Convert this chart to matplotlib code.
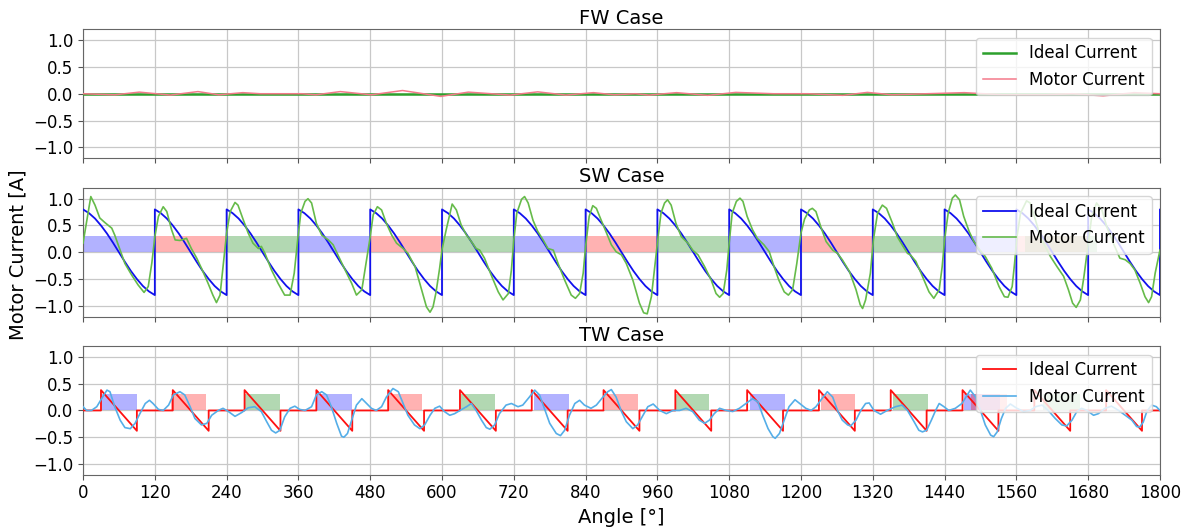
import matplotlib
matplotlib.use("Agg")
import matplotlib.pyplot as plt
import numpy as np

# ---- FW case: ideal current is flat zero, motor current has small ripple ----
FW_IDEAL_ANGLE = [0, 1800]
FW_IDEAL = [0.0, 0.0]
FW_ANGLE = [0, 53, 94, 146, 192, 227, 267, 296, 366, 389, 430, 482, 534, 598,
            644, 714, 760, 807, 853, 888, 923, 946, 992, 1044, 1091, 1154, 1212,
            1270, 1311, 1352, 1410, 1473, 1537, 1607, 1653, 1705, 1757, 1800]
FW_MOTOR = [0.0, -0.02, 0.03, -0.025, 0.04, -0.02, 0.02, 0.0, 0.0, -0.02, 0.04,
            -0.02, 0.06, -0.05, 0.03, -0.025, 0.035, -0.025, 0.02, -0.02, 0.0,
            -0.025, 0.02, -0.03, 0.025, 0.0, 0.0, -0.03, 0.025, -0.02, 0.0, 0.02,
            -0.02, -0.02, 0.0, -0.04, 0.02, 0.0]

# ---- SW case ----
SW_PERIOD_STARTS = [0, 120, 240, 360, 480, 600, 720, 840, 960, 1080, 1200, 1320,
                    1440, 1560, 1680, 1800]
SW_PROFILE_OFFSET = [0, 10, 20, 30, 40, 50, 60, 70, 80, 90, 100, 110, 120]
SW_PROFILE_VALUE = [0.80, 0.73, 0.63, 0.50, 0.35, 0.18, 0.0, -0.18, -0.35,
                    -0.50, -0.63, -0.73, -0.80]
SW_ANGLE = [0, 13, 20, 28, 37, 48, 53, 62, 70, 81, 92, 102, 109, 115, 120, 126,
            134, 140, 148, 154, 162, 173, 181, 190, 198, 209, 217, 223, 229, 234,
            240, 246, 254, 259, 268, 276, 284, 293, 298, 304, 315, 326, 337, 346,
            353, 359, 364, 371, 376, 382, 390, 399, 410, 418, 426, 438, 449, 457,
            466, 472, 480, 485, 492, 499, 507, 516, 524, 535, 543, 555, 566, 574,
            580, 585, 590, 596, 600, 607, 617, 624, 632, 641, 649, 657, 663, 671,
            682, 694, 702, 711, 716, 720, 725, 733, 738, 744, 752, 760, 769, 777,
            786, 794, 805, 816, 823, 830, 836, 840, 846, 852, 858, 866, 875, 883,
            891, 900, 908, 919, 930, 937, 943, 950, 955, 960, 966, 972, 977, 983,
            991, 1000, 1011, 1019, 1028, 1039, 1050, 1058, 1064, 1070, 1076, 1080,
            1085, 1092, 1098, 1103, 1110, 1119, 1127, 1138, 1147, 1155, 1163, 1172,
            1179, 1186, 1193, 1200, 1206, 1214, 1219, 1225, 1233, 1242, 1253, 1261,
            1269, 1281, 1292, 1299, 1303, 1308, 1316, 1321, 1328, 1336, 1343, 1353,
            1361, 1369, 1378, 1383, 1392, 1403, 1414, 1422, 1431, 1436, 1440, 1446,
            1453, 1458, 1465, 1472, 1481, 1489, 1497, 1508, 1519, 1531, 1540, 1546,
            1553, 1557, 1561, 1567, 1577, 1583, 1592, 1600, 1608, 1617, 1628, 1639,
            1647, 1654, 1660, 1667, 1673, 1681, 1686, 1694, 1703, 1711, 1722, 1733,
            1742, 1750, 1758, 1767, 1775, 1781, 1786, 1792, 1800]
SW_MOTOR = [0.17, 1.04, 0.88, 0.64, 0.55, 0.45, 0.32, 0.04, -0.21, -0.42, -0.61,
            -0.75, -0.64, -0.20, 0.29, 0.67, 0.85, 0.76, 0.42, 0.23, 0.22, 0.26,
            0.07, -0.11, -0.30, -0.58, -0.80, -0.94, -0.80, -0.27, 0.36, 0.76, 0.93,
            0.88, 0.60, 0.36, 0.17, 0.07, 0.11, -0.02, -0.33, -0.58, -0.80, -0.80,
            -0.39, 0.26, 0.73, 0.95, 1.00, 0.92, 0.54, 0.32, 0.23, 0.14, -0.05,
            -0.33, -0.58, -0.80, -0.70, -0.27, 0.29, 0.70, 0.85, 0.79, 0.54, 0.32,
            0.17, 0.07, -0.02, -0.27, -0.70, -1.02, -1.12, -1.02, -0.75, -0.30,
            0.05, 0.42, 0.90, 0.79, 0.51, 0.32, 0.20, 0.07, 0.04, -0.11, -0.42,
            -0.74, -0.89, -0.77, -0.33, 0.23, 0.73, 0.99, 1.04, 0.92, 0.60, 0.39,
            0.23, 0.07, 0.04, -0.21, -0.52, -0.80, -0.86, -0.77, -0.39, 0.11, 0.67,
            0.87, 0.82, 0.60, 0.36, 0.14, 0.01, -0.05, -0.21, -0.52, -0.95, -1.13,
            -1.15, -0.83, -0.33, 0.17, 0.73, 0.92, 0.98, 0.88, 0.54, 0.29, 0.17,
            0.04, -0.05, -0.27, -0.52, -0.77, -0.84, -0.77, -0.33, 0.17, 0.73, 0.95,
            1.01, 0.95, 0.67, 0.42, 0.26, 0.14, 0.01, -0.27, -0.52, -0.74, -0.80,
            -0.70, -0.21, 0.36, 0.62, 0.79, 0.82, 0.76, 0.48, 0.20, 0.04, -0.02,
            -0.14, -0.36, -0.70, -0.98, -1.05, -0.89, -0.39, 0.23, 0.73, 0.88, 0.82,
            0.54, 0.29, 0.14, -0.02, -0.05, -0.17, -0.45, -0.74, -0.86, -0.70,
            -0.27, 0.23, 0.73, 1.01, 1.07, 0.98, 0.67, 0.39, 0.20, 0.07, -0.08,
            -0.30, -0.64, -0.83, -0.84, -0.64, -0.21, 0.29, 0.73, 0.96, 0.92, 0.60,
            0.29, 0.11, -0.08, -0.27, -0.45, -0.70, -0.95, -1.03, -0.89, -0.45,
            0.23, 0.67, 0.92, 0.79, 0.48, 0.17, -0.11, -0.14, -0.21, -0.33, -0.58,
            -0.83, -0.94, -0.83, -0.39, 0.04]
SW_BAND_START = [0, 120, 240, 360, 480, 600, 720, 840, 960, 1080, 1200, 1320,
                 1440, 1560, 1575]
SW_BAND_END = [120, 240, 360, 480, 600, 720, 840, 960, 1080, 1200, 1320, 1440,
               1560, 1680, 1695]
SW_BAND_COLOR = ["blue", "red", "green", "blue", "red", "green", "blue", "red",
                 "green", "blue", "red", "green", "blue", "red", "green"]

# ---- TW case ----
TW_PULSE_START = [30, 150, 270, 390, 510, 630, 750, 870, 990, 1110, 1230, 1350,
                  1470, 1590, 1710]
TW_PULSE_END = [90, 210, 330, 450, 570, 690, 810, 930, 1050, 1170, 1290, 1410,
                1530, 1650, 1770]
TW_PULSE_PEAK = 0.38
TW_ANGLE = [0, 6, 14, 23, 31, 40, 45, 53, 62, 70, 79, 87, 95, 104, 111, 117, 126,
            134, 143, 151, 162, 170, 179, 187, 198, 207, 215, 226, 234, 243, 254,
            265, 276, 287, 298, 307, 315, 322, 329, 337, 346, 354, 362, 371, 382,
            390, 399, 407, 415, 424, 432, 436, 442, 449, 457, 466, 474, 482, 490,
            499, 507, 518, 527, 535, 543, 554, 563, 571, 580, 588, 596, 604, 613,
            621, 630, 641, 649, 657, 666, 674, 680, 688, 696, 707, 716, 727, 735,
            746, 755, 763, 771, 780, 791, 798, 805, 813, 822, 830, 838, 849, 858,
            869, 877, 883, 891, 900, 908, 919, 927, 936, 944, 953, 964, 975, 986,
            997, 1008, 1019, 1030, 1039, 1047, 1055, 1064, 1075, 1086, 1097, 1108,
            1119, 1128, 1136, 1145, 1153, 1157, 1164, 1172, 1180, 1190, 1199, 1208,
            1217, 1225, 1233, 1244, 1253, 1261, 1269, 1278, 1283, 1292, 1300, 1308,
            1314, 1322, 1333, 1344, 1358, 1369, 1378, 1389, 1397, 1403, 1410, 1418,
            1425, 1431, 1439, 1447, 1458, 1469, 1478, 1483, 1492, 1500, 1508, 1517,
            1522, 1528, 1535, 1542, 1550, 1561, 1572, 1583, 1592, 1603, 1614, 1625,
            1636, 1644, 1653, 1661, 1669, 1678, 1689, 1697, 1708, 1719, 1731, 1742,
            1753, 1761, 1766, 1772, 1778, 1786, 1794, 1800]
TW_MOTOR = [0.07, 0.0, 0.0, 0.07, 0.22, 0.38, 0.35, 0.07, -0.18, -0.32, -0.34,
            -0.24, -0.06, 0.13, 0.19, 0.13, 0.02, 0.0, 0.10, 0.29, 0.35, 0.29,
            0.07, -0.15, -0.27, -0.24, -0.09, 0.0, 0.04, -0.02, -0.11, -0.04, 0.05,
            0.07, -0.02, -0.21, -0.37, -0.42, -0.37, -0.12, 0.04, 0.08, 0.02, 0.0,
            0.07, 0.29, 0.35, 0.29, 0.07, -0.24, -0.48, -0.50, -0.43, -0.18, 0.10,
            0.22, 0.13, 0.04, 0.0, 0.07, 0.25, 0.41, 0.35, 0.13, -0.09, -0.27,
            -0.34, -0.27, -0.09, 0.04, 0.08, -0.02, -0.09, -0.06, 0.0, 0.07, 0.13,
            0.0, -0.18, -0.32, -0.35, -0.27, -0.06, 0.10, 0.13, 0.07, 0.10, 0.25,
            0.38, 0.29, 0.04, -0.24, -0.43, -0.47, -0.37, -0.09, 0.13, 0.19, 0.10,
            0.04, 0.10, 0.25, 0.35, 0.39, 0.25, -0.02, -0.21, -0.34, -0.27, -0.09,
            0.07, 0.12, 0.0, -0.06, 0.0, 0.0, 0.04, -0.02, -0.18, -0.24, -0.18,
            -0.06, 0.04, 0.0, -0.02, 0.04, 0.13, 0.22, 0.16, -0.09, -0.34, -0.49,
            -0.52, -0.43, -0.18, 0.07, 0.20, 0.12, 0.04, 0.0, 0.07, 0.19, 0.35,
            0.25, 0.0, -0.18, -0.27, -0.29, -0.18, 0.0, 0.13, 0.14, 0.0, -0.07, 0.0,
            0.07, 0.10, 0.0, -0.21, -0.37, -0.40, -0.37, -0.18, 0.0, 0.13, 0.07,
            0.0, 0.04, 0.13, 0.29, 0.38, 0.25, 0.0, -0.27, -0.46, -0.49, -0.40,
            -0.15, 0.04, 0.12, 0.04, -0.02, 0.0, 0.07, 0.10, -0.01, -0.15, -0.27,
            -0.29, -0.18, -0.02, 0.04, 0.0, -0.09, -0.06, 0.04, 0.08, 0.0, -0.09,
            -0.18, -0.30, -0.31, -0.22, -0.02, 0.10, 0.07, 0.0]
TW_BAND_START = [30, 147, 269, 389, 509, 630, 754, 873, 991, 1114, 1234, 1353,
                 1473, 1485, 1605]
TW_BAND_END = [90, 205, 329, 449, 567, 689, 813, 928, 1047, 1173, 1290, 1412,
               1533, 1545, 1667]
TW_BAND_COLOR = ["blue", "red", "green", "blue", "red", "green", "blue", "red",
                 "green", "blue", "red", "green", "blue", "red", "green"]
BAND_HEIGHT = 0.3

XTICKS = list(range(0, 1801, 120))
YTICKS = [-1.0, -0.5, 0.0, 0.5, 1.0]


def sw_ideal():
    xs, ys = [], []
    for s in SW_PERIOD_STARTS:
        xs += [s + o for o in SW_PROFILE_OFFSET]
        ys += SW_PROFILE_VALUE
    return xs, ys


def tw_ideal():
    xs, ys = [0], [0.0]
    for a, b in zip(TW_PULSE_START, TW_PULSE_END):
        xs += [a, a, b, b]
        ys += [0.0, TW_PULSE_PEAK, -TW_PULSE_PEAK, 0.0]
    xs.append(1800)
    ys.append(0.0)
    return xs, ys


def bands(ax, starts, ends, colors):
    widths = [e - s for s, e in zip(starts, ends)]
    ax.bar(starts, BAND_HEIGHT, width=widths, bottom=0, align="edge",
           color=colors, alpha=0.3, linewidth=0, zorder=1)


plt.rcParams.update({"font.family": "DejaVu Sans", "font.size": 12})
fig = plt.figure(figsize=(11.93, 5.3), dpi=100)
left, width, height = 0.0696, 0.9027, 0.2425
ax1 = fig.add_axes([left, 0.7019, width, height])
ax2 = fig.add_axes([left, 0.4028, width, height], sharex=ax1)
ax3 = fig.add_axes([left, 0.1043, width, height], sharex=ax1)

# FW
ax1.plot(FW_IDEAL_ANGLE, FW_IDEAL, color="#2ca02c", lw=1.8, label="Ideal Current", zorder=3)
ax1.plot(FW_ANGLE, FW_MOTOR, color="#f4798a", lw=1.1, label="Motor Current", zorder=4)
ax1.set_title("FW Case", fontsize=14, pad=4)

# SW
bands(ax2, SW_BAND_START, SW_BAND_END, SW_BAND_COLOR)
x, y = sw_ideal()
ax2.plot(x, y, color="#1010ee", lw=1.3, label="Ideal Current", zorder=3)
ax2.plot(SW_ANGLE, SW_MOTOR, color="#66bb4a", lw=1.2, label="Motor Current", zorder=4)
ax2.set_title("SW Case", fontsize=14, pad=4)

# TW
bands(ax3, TW_BAND_START, TW_BAND_END, TW_BAND_COLOR)
x, y = tw_ideal()
ax3.plot(x, y, color="#ff1010", lw=1.3, label="Ideal Current", zorder=3)
ax3.plot(TW_ANGLE, TW_MOTOR, color="#55aee8", lw=1.2, label="Motor Current", zorder=4)
ax3.set_title("TW Case", fontsize=14, pad=4)

for ax in (ax1, ax2, ax3):
    ax.set_xlim(0, 1800)
    ax.set_ylim(-1.2, 1.2)
    ax.set_yticks(YTICKS)
    ax.set_xticks(XTICKS)
    ax.grid(True, color="#c8c8c8", lw=0.9)
    ax.set_axisbelow(True)
    ax.tick_params(labelsize=12, color="#555555")
    for sp in ax.spines.values():
        sp.set_color("#666666")
    leg = ax.legend(loc="upper right", fontsize=12, framealpha=0.8)
    leg.set_zorder(10)

ax1.tick_params(labelbottom=False)
ax2.tick_params(labelbottom=False)
ax3.set_xlabel("Angle [°]", fontsize=14)
fig.text(0.015, 0.52, "Motor Current [A]", rotation=90, va="center", ha="center",
         fontsize=14)

fig.savefig("out.png", dpi=100)
